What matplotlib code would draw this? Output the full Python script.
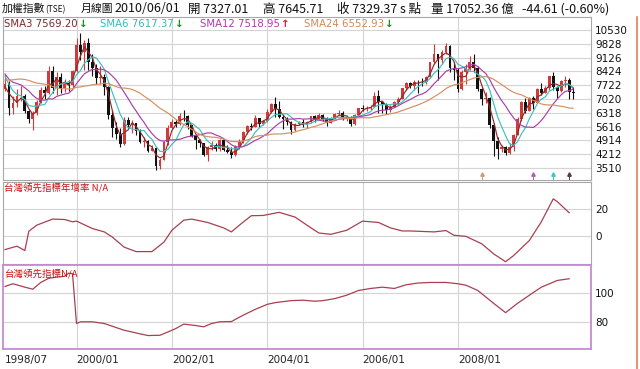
import numpy as np
import pandas as pd
import matplotlib
matplotlib.use("Agg")
import matplotlib.pyplot as plt
from matplotlib.lines import Line2D
from matplotlib.transforms import blended_transform_factory

# ---------------- data ----------------
first_open = 7548
# monthly closes 1998/07 .. 2010/06
close = [7800, 6550, 6830, 7166, 7177, 6418,
         5998, 6310, 6880, 7500, 7300, 8467, 7590, 8157, 7598, 7854, 7720, 8448,
         9744, 9435, 9854, 8900, 8600, 8100, 8114, 7616, 6185, 5544, 5256, 4739,
         5936, 5675, 5797, 5384, 4850, 4883, 4353, 4530, 3636, 3903, 4810, 5551,
         5872, 5730, 6167, 6153, 5675, 5153, 4940, 4765, 4191, 4579, 4680, 4452,
         4941, 4432, 4321, 4148, 4555, 4872, 5318, 5650, 5611, 6045, 5771, 5890,
         6375, 6750, 6522, 6117, 5977, 5840, 5420, 5765, 5845, 5706, 5845, 6140,
         5994, 6207, 6006, 5819, 6012, 6241, 6312, 6033, 6119, 5764, 6203, 6548,
         6532, 6561, 6614, 7171, 6847, 6704, 6455, 6611, 6884, 7021, 7567, 7823,
         7699, 7902, 7884, 7875, 8145, 8884, 9288, 8982, 9411, 9711, 8586, 8506,
         7521, 8413, 8572, 8920, 8619, 7523, 7024, 7046, 5719, 4870, 4460, 4591,
         4248, 4557, 5210, 5993, 6890, 6432, 7078, 6826, 7509, 7340, 7582, 8188,
         7640, 7436, 7920, 8004, 7374, 7329]
high = [8300, 7950, 7150, 7550, 7700, 7250,
        6450, 6400, 6950, 7650, 7700, 8710, 8710, 8400, 8350, 8050, 8000, 8500,
        10128, 10393, 10000, 10100, 9300, 8800, 8700, 8300, 7700, 6450, 5850, 5550,
        6100, 6104, 5960, 5810, 5500, 5100, 4950, 4700, 4600, 4000, 4900, 5700,
        6000, 5950, 6300, 6484, 6200, 5700, 5200, 5000, 4800, 4650, 4900, 4800,
        5000, 5000, 4700, 4600, 4700, 5000, 5400, 5700, 5820, 6182, 6050, 5950,
        6500, 6800, 7135, 6900, 6200, 6100, 5900, 5800, 5900, 6000, 5900, 6150,
        6200, 6300, 6250, 6100, 6100, 6300, 6450, 6400, 6200, 6150, 6250, 6575,
        6700, 6650, 6700, 7400, 7474, 6900, 6800, 6700, 6900, 7100, 7600, 7900,
        7900, 7999, 8000, 8100, 8200, 8900, 9807, 9300, 9500, 9859, 9750, 8900,
        8600, 8500, 8800, 9200, 9309, 8700, 7600, 7400, 7100, 5800, 5100, 4700,
        4650, 4800, 5250, 6100, 6900, 7084, 7100, 7150, 7600, 7811, 7700, 8200,
        8395, 7700, 7970, 8190, 8100, 7646]
low = [7450, 6220, 6270, 6600, 6900, 6300,
       5800, 5422, 6200, 6800, 7000, 7250, 7350, 7200, 7300, 7400, 7450, 7600,
       8400, 9000, 8500, 8500, 8200, 7800, 7800, 7200, 6000, 5100, 5000, 4555,
       4700, 5500, 5300, 5200, 4800, 4600, 4300, 4350, 3411, 3450, 3900, 4700,
       5500, 5600, 5700, 5900, 5500, 5100, 4500, 4600, 4100, 3850, 4450, 4400,
       4400, 4400, 4250, 4044, 4100, 4500, 4800, 5250, 5450, 5600, 5600, 5700,
       5850, 6300, 6100, 6050, 5500, 5700, 5255, 5400, 5700, 5600, 5550, 5800,
       5850, 5950, 5900, 5635, 5800, 6000, 6200, 5950, 5900, 5635, 5700, 6150,
       6400, 6400, 6450, 6600, 6300, 6300, 6232, 6350, 6600, 6750, 7000, 7500,
       7600, 7500, 7300, 7700, 7800, 8100, 8800, 7985, 8800, 9300, 8400, 8000,
       7384, 7500, 7800, 8500, 8400, 7450, 6700, 6800, 5530, 4110, 3955, 4300,
       4164, 4200, 4400, 5200, 5900, 6300, 6400, 6500, 6800, 7200, 7300, 7500,
       7500, 7080, 7400, 7650, 7000, 7000]
# closes of the 23 months before 1998/07 (for the moving averages)
pre_close = [6400, 6600, 6450, 6900, 6933,
             7214, 8100, 8300, 8100, 8100, 9030, 9800, 9800, 8700, 7900, 8000, 8187,
             7900, 9000, 8800, 8300, 7600, 7548]

price_ticks = [10530, 9828, 9126, 8424, 7722, 7020, 6318, 5616, 4914, 4212, 3510]
x_tick_labels = ["1998/07", "2000/01", "2002/01", "2004/01", "2006/01", "2008/01"]

sma_periods = [3, 6, 12, 24]
sma_values = ["7569.20", "7617.37", "7518.95", "6552.93"]
sma_dirs = ["down", "down", "up", "down"]

signal_months = ["2008/07", "2009/08", "2010/01", "2010/05"]
signal_colors = ["#c8a07a", "#b060b0", "#40c4c4", "#5a3a3a"]

yoy_months = ["1998/07", "1998/10", "1998/12", "1999/01", "1999/03", "1999/07", "1999/10",
              "1999/12", "2000/01", "2000/05", "2000/08", "2000/10", "2001/01", "2001/04",
              "2001/08", "2001/11", "2002/01", "2002/04", "2002/06", "2002/10", "2003/02",
              "2003/04", "2003/06", "2003/09", "2003/12", "2004/04", "2004/08", "2004/12",
              "2005/02", "2005/05", "2005/09", "2006/01", "2006/05", "2006/08", "2006/11",
              "2007/01", "2007/07", "2007/10", "2007/12", "2008/03", "2008/07", "2008/10",
              "2009/01", "2009/03", "2009/07", "2009/10", "2010/01", "2010/02", "2010/05"]
yoy_values = [-9.8, -7.3, -10.5, 3.8, 8.3, 12.8, 12.5, 10.8, 11.3, 5.8, 3.3, -0.5, -8.0,
              -11.3, -11.3, -4.3, 4.5, 12.0, 12.8, 10.3, 6.3, 3.3, 8.3, 15.3, 15.5, 17.8,
              14.3, 6.3, 2.5, 1.5, 4.5, 11.3, 10.3, 6.3, 4.0, 4.0, 3.3, 4.3, 0.8, 0.0,
              -5.5, -13.0, -18.8, -14.3, -3.0, 10.8, 27.8, 25.8, 17.5]

lead_months = ["1998/07", "1998/09", "1998/12", "1999/02", "1999/04", "1999/06", "1999/08",
               "1999/10", "1999/11", "1999/12", "2000/01", "2000/02", "2000/05", "2000/08",
               "2001/01", "2001/04", "2001/07", "2001/10", "2001/12", "2002/02", "2002/04",
               "2002/07", "2002/09", "2002/11", "2003/01", "2003/04", "2003/07", "2003/10",
               "2004/01", "2004/03", "2004/07", "2004/10", "2005/01", "2005/03", "2005/06",
               "2005/09", "2005/12", "2006/03", "2006/06", "2006/09", "2006/12", "2007/03",
               "2007/06", "2007/10", "2008/01", "2008/03", "2008/06", "2008/10", "2009/01",
               "2009/04", "2009/08", "2009/10", "2010/02", "2010/05"]
lead_values = [104.7, 106.6, 104.2, 102.8, 107.5, 110.4, 111.3, 111.8, 114.0, 113.6, 78.8,
               80.0, 80.0, 78.8, 74.1, 72.2, 70.4, 70.6, 72.9, 75.3, 78.4, 77.4, 76.5, 78.8,
               80.0, 80.2, 84.7, 88.7, 92.2, 93.4, 94.8, 95.1, 94.4, 94.8, 96.2, 98.6, 101.9,
               103.3, 104.2, 103.3, 105.9, 107.1, 107.5, 107.5, 106.6, 105.6, 101.9, 92.9,
               86.4, 92.9, 100.5, 104.2, 108.9, 110.1]

# ---------------- helpers ----------------
months = pd.period_range("1998-07", "2010-06", freq="M")
mlabels = [f"{p.year}/{p.month:02d}" for p in months]
pos = {m: i for i, m in enumerate(mlabels)}
n = len(close)
idx = np.arange(n)
c = np.array(close, float)
h = np.array(high, float)
l = np.array(low, float)
o = np.concatenate([[first_open], c[:-1]])

allc = pd.Series(list(pre_close) + list(close), dtype=float)
smas = [allc.rolling(p, min_periods=1).mean().values[-n:] for p in sma_periods]

W, H = 640, 369
fig = plt.figure(figsize=(W / 100, H / 100), dpi=100)
fig.patch.set_facecolor("white")


def rect(x0, y0, x1, y1):
    return [x0 / W, 1 - y1 / H, (x1 - x0) / W, (y1 - y0) / H]


ax1 = fig.add_axes(rect(3, 17, 591, 180))
ax2 = fig.add_axes(rect(3, 182, 591, 264))
ax3 = fig.add_axes(rect(3, 265, 591, 349))

grid_c = "#d4d4d4"
vgrid = [pos[m] for m in x_tick_labels[1:]]
for ax in (ax1, ax2, ax3):
    ax.set_xlim(-0.5, 147.5)
    ax.yaxis.tick_right()
    ax.tick_params(axis="y", length=0, pad=3, labelsize=7.5, colors="#111111")
    ax.tick_params(axis="x", length=0)
    for xv in vgrid:
        ax.axvline(xv, color=grid_c, lw=0.8, zorder=0)
    ax.grid(axis="y", color=grid_c, lw=0.8, zorder=0)
    for s in ax.spines.values():
        s.set_color("#a8a8a8")
        s.set_linewidth(0.8)

# ---- price panel ----
red_c, blk_c = "#d23a3a", "#111111"
up = c >= o
cols = np.where(up, red_c, blk_c)
ax1.vlines(idx, l, h, colors=cols, lw=0.8, zorder=3)
body = np.maximum(np.abs(c - o), 20)
ax1.bar(idx, body, bottom=np.minimum(o, c), width=0.7, color=cols, lw=0, zorder=4)

sma_colors = ["#8e2a2a", "#3ec0c0", "#a840a8", "#d49060"]
for s, col in zip(smas, sma_colors):
    ax1.plot(idx, s, color=col, lw=0.85, zorder=5)

ax1.set_ylim(2900, 11190)
ax1.set_yticks(price_ticks)
ax1.set_yticklabels([str(t) for t in price_ticks])
ax1.set_xticks([])

tr = blended_transform_factory(ax1.transData, ax1.transAxes)
for m, col in zip(signal_months, signal_colors):
    ax1.plot([pos[m]], [0.035], marker="^", ms=2.5, color=col, transform=tr,
             zorder=6, clip_on=False)
    ax1.plot([pos[m], pos[m]], [0.005, 0.035], color=col, lw=0.7, transform=tr, zorder=6)

# ---- YoY panel ----
line_c = "#a84050"
ax2.plot([pos[m] for m in yoy_months], yoy_values, color=line_c, lw=0.9, zorder=3)
ax2.set_ylim(-20.5, 40.3)
ax2.set_yticks([20, 0])
ax2.set_yticklabels(["20", "0"])
ax2.set_xticks([])

# ---- leading index panel ----
ax3.plot([pos[m] for m in lead_months], lead_values, color=line_c, lw=0.9, zorder=3)
ax3.set_ylim(61, 119.7)
ax3.set_yticks([100, 80])
ax3.set_yticklabels(["100", "80"])
for s in ax3.spines.values():
    s.set_color("#c78ad6")
    s.set_linewidth(1.3)
ax3.set_xticks([pos[m] for m in x_tick_labels])
ax3.set_xticklabels(x_tick_labels, ha="left", fontsize=7.5, color="#222222")
ax3.tick_params(axis="x", pad=4)

# ---- texts ----
cjk = ["Noto Sans CJK TC", "DejaVu Sans"]


def ftext(x, y, s, **kw):
    fig.text(x / W, 1 - y / H, s, va="center", ha="left", **kw)


ftext(2, 9, "加權指數", family=cjk, fontsize=7.8, color="#111111")
ftext(45, 9.5, "(TSE)", family=cjk, fontsize=6.0, color="#111111")
ftext(81, 9, "月線圖", family=cjk, fontsize=7.8, color="#111111")
ftext(114, 9, "2010/06/01", family=cjk, fontsize=9, color="#111111")
ftext(188, 9, "開 7327.01", family=cjk, fontsize=9, color="#111111")
ftext(263, 9, "高 7645.71", family=cjk, fontsize=9, color="#111111")
ftext(337, 9, "收 7329.37 s 點", family=cjk, fontsize=9, color="#111111")
ftext(431, 9, "量 17052.36 億", family=cjk, fontsize=9, color="#111111")
ftext(522, 9, "-44.61 (-0.60%)", family=cjk, fontsize=9, color="#111111")

leg_x = [4, 100, 200, 304]
leg_label_colors = ["#7a2a2a", "#3ab8b8", "#b03aa8", "#d08a58"]
for x0, p, v, d, col in zip(leg_x, sma_periods, sma_values, sma_dirs, leg_label_colors):
    t = fig.text(x0 / W, 1 - 24 / H, f"SMA{p} {v}", va="center", ha="left",
                 fontsize=7.3, color=col, family="DejaVu Sans")
    fig.canvas.draw()
    bb = t.get_window_extent()
    arrow = "↓" if d == "down" else "↑"
    acol = "#1f8a1f" if d == "down" else "#e02020"
    fig.text((bb.x1 + 1) / W, 1 - 24 / H, arrow, va="center", ha="left",
             fontsize=7.5, color=acol, weight="bold", family="DejaVu Sans")

ftext(4, 188, "台灣領先指標年增率 N/A", family=cjk, fontsize=6.8, color="#cc1111")
ftext(4, 274, "台灣領先指標N/A", family=cjk, fontsize=6.8, color="#cc1111")

fig.add_artist(Line2D([637 / W, 637 / W], [0, 1 - 17 / H], color="#e0805a", lw=1.2))

fig.savefig("out.png", dpi=100, facecolor="white")
